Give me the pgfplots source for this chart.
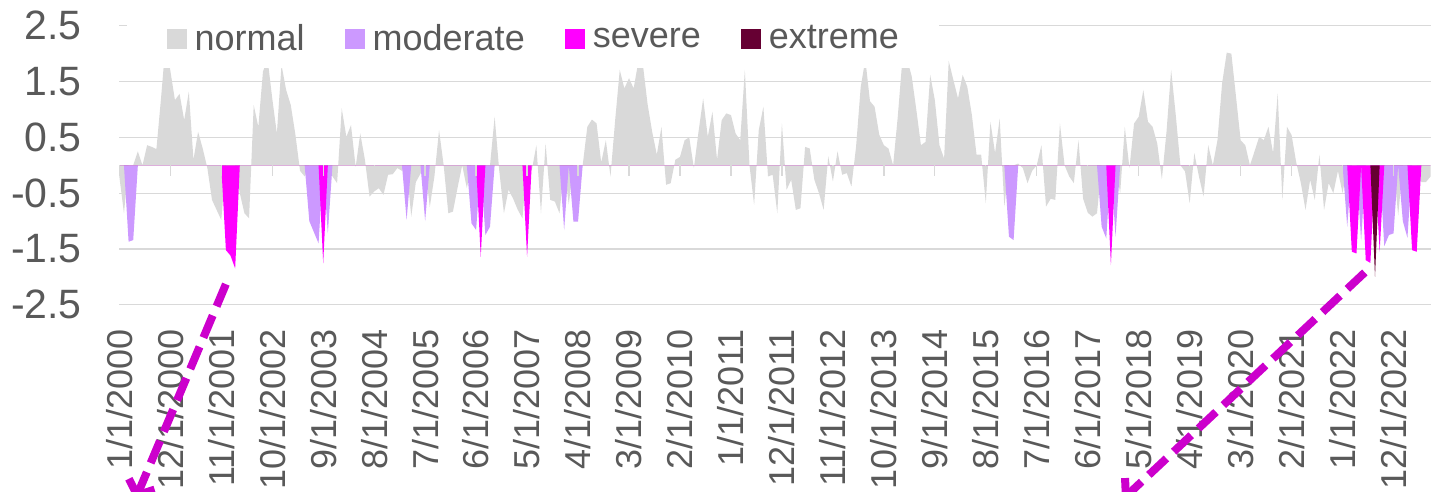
\documentclass[border=0pt]{standalone}
\usepackage{pgfplots}
\pgfplotsset{compat=1.18}
\usepackage{pgfplotstable}
\usepackage{fontspec}
\setmainfont{Liberation Sans}
\usetikzlibrary{arrows.meta}

\definecolor{cnormal}{HTML}{D9D9D9}
\definecolor{cmoderate}{HTML}{CC99FF}
\definecolor{csevere}{HTML}{FF00FF}
\definecolor{cextreme}{HTML}{660033}
\definecolor{txt}{HTML}{595959}
\definecolor{arrowc}{HTML}{CC00CC}

% monthly index, one column per class (0 where the month is in another class)
\pgfplotstableread{
x n m s e
0 -0.20 0 0 0
1 -0.86 0 0 0
2 0 -1.37 0 0
3 0 -1.34 0 0
4 0.25 0 0 0
5 0.00 0 0 0
6 0.36 0 0 0
7 0.33 0 0 0
8 0.29 0 0 0
9 1.20 0 0 0
10 2.20 0 0 0
11 1.70 0 0 0
12 1.17 0 0 0
13 1.28 0 0 0
14 0.81 0 0 0
15 1.32 0 0 0
16 0.10 0 0 0
17 0.60 0 0 0
18 0.30 0 0 0
19 -0.05 0 0 0
20 -0.62 0 0 0
21 -0.80 0 0 0
22 -0.98 0 0 0
23 0 0 -1.52 0
24 0 0 -1.62 0
25 0 0 -1.85 0
26 -0.50 0 0 0
27 -0.86 0 0 0
28 -0.95 0 0 0
29 1.08 0 0 0
30 0.69 0 0 0
31 1.68 0 0 0
32 1.90 0 0 0
33 1.20 0 0 0
34 0.57 0 0 0
35 1.80 0 0 0
36 1.35 0 0 0
37 1.08 0 0 0
38 0.55 0 0 0
39 -0.10 0 0 0
40 -0.20 0 0 0
41 0 -1.00 0 0
42 0 -1.20 0 0
43 0 -1.40 0 0
44 0 0 -1.76 0
45 0 -1.22 0 0
46 -0.20 0 0 0
47 -0.32 0 0 0
48 1.02 0 0 0
49 0.51 0 0 0
50 0.72 0 0 0
51 -0.03 0 0 0
52 0.57 0 0 0
53 0.10 0 0 0
54 -0.56 0 0 0
55 -0.47 0 0 0
56 -0.41 0 0 0
57 -0.53 0 0 0
58 -0.17 0 0 0
59 -0.16 0 0 0
60 -0.05 0 0 0
61 -0.10 0 0 0
62 0 -0.98 0 0
63 -0.92 0 0 0
64 -0.30 0 0 0
65 -0.15 0 0 0
66 0 -1.00 0 0
67 -0.75 0 0 0
68 -0.20 0 0 0
69 0.63 0 0 0
70 0.00 0 0 0
71 -0.86 0 0 0
72 -0.83 0 0 0
73 -0.40 0 0 0
74 0.00 0 0 0
75 -0.41 0 0 0
76 0 -1.04 0 0
77 0 -1.16 0 0
78 0 0 -1.64 0
79 0 -1.25 0 0
80 0 -1.10 0 0
81 0.87 0 0 0
82 -0.10 0 0 0
83 -0.86 0 0 0
84 -0.44 0 0 0
85 -0.60 0 0 0
86 -0.80 0 0 0
87 -0.95 0 0 0
88 0 0 -1.64 0
89 -0.10 0 0 0
90 0.36 0 0 0
91 -0.86 0 0 0
92 0.39 0 0 0
93 -0.62 0 0 0
94 -0.65 0 0 0
95 -0.86 0 0 0
96 0 -1.16 0 0
97 -0.70 0 0 0
98 0 -1.01 0 0
99 0 -1.01 0 0
100 0.00 0 0 0
101 0.69 0 0 0
102 0.82 0 0 0
103 0.75 0 0 0
104 0.05 0 0 0
105 0.45 0 0 0
106 -0.20 0 0 0
107 0.80 0 0 0
108 1.71 0 0 0
109 1.38 0 0 0
110 1.56 0 0 0
111 1.38 0 0 0
112 1.85 0 0 0
113 1.80 0 0 0
114 1.10 0 0 0
115 0.60 0 0 0
116 0.19 0 0 0
117 0.69 0 0 0
118 -0.35 0 0 0
119 -0.32 0 0 0
120 0.10 0 0 0
121 0.15 0 0 0
122 0.45 0 0 0
123 0.50 0 0 0
124 -0.05 0 0 0
125 0.60 0 0 0
126 1.20 0 0 0
127 0.51 0 0 0
128 0.96 0 0 0
129 0.10 0 0 0
130 0.81 0 0 0
131 0.93 0 0 0
132 0.90 0 0 0
133 0.57 0 0 0
134 0.45 0 0 0
135 1.71 0 0 0
136 0.00 0 0 0
137 -0.71 0 0 0
138 0.63 0 0 0
139 1.05 0 0 0
140 -0.20 0 0 0
141 -0.17 0 0 0
142 -0.86 0 0 0
143 0.75 0 0 0
144 -0.44 0 0 0
145 -0.26 0 0 0
146 -0.80 0 0 0
147 -0.77 0 0 0
148 0.33 0 0 0
149 0.30 0 0 0
150 -0.26 0 0 0
151 -0.50 0 0 0
152 -0.80 0 0 0
153 0.16 0 0 0
154 -0.29 0 0 0
155 0.25 0 0 0
156 -0.17 0 0 0
157 -0.14 0 0 0
158 -0.38 0 0 0
159 0.33 0 0 0
160 1.40 0 0 0
161 1.90 0 0 0
162 1.15 0 0 0
163 1.05 0 0 0
164 0.55 0 0 0
165 0.36 0 0 0
166 0.30 0 0 0
167 0.00 0 0 0
168 0.87 0 0 0
169 1.90 0 0 0
170 1.90 0 0 0
171 1.60 0 0 0
172 1.00 0 0 0
173 0.36 0 0 0
174 0.42 0 0 0
175 1.62 0 0 0
176 1.17 0 0 0
177 0.36 0 0 0
178 0.12 0 0 0
179 1.87 0 0 0
180 1.53 0 0 0
181 1.20 0 0 0
182 1.62 0 0 0
183 1.41 0 0 0
184 0.90 0 0 0
185 0.19 0 0 0
186 0.19 0 0 0
187 -0.68 0 0 0
188 0.78 0 0 0
189 0.22 0 0 0
190 0.84 0 0 0
191 -0.74 0 0 0
192 0 -1.28 0 0
193 0 -1.34 0 0
194 0.03 0 0 0
195 -0.05 0 0 0
196 -0.32 0 0 0
197 -0.10 0 0 0
198 0.00 0 0 0
199 0.36 0 0 0
200 -0.74 0 0 0
201 -0.60 0 0 0
202 -0.62 0 0 0
203 0.75 0 0 0
204 0.00 0 0 0
205 -0.20 0 0 0
206 -0.32 0 0 0
207 0.45 0 0 0
208 -0.60 0 0 0
209 -0.85 0 0 0
210 -0.92 0 0 0
211 -0.86 0 0 0
212 0 -1.10 0 0
213 0 -1.31 0 0
214 0 0 -1.79 0
215 0 -1.28 0 0
216 -0.50 0 0 0
217 0.69 0 0 0
218 -0.05 0 0 0
219 0.75 0 0 0
220 0.87 0 0 0
221 1.35 0 0 0
222 0.78 0 0 0
223 0.69 0 0 0
224 0.39 0 0 0
225 -0.25 0 0 0
226 0.60 0 0 0
227 1.71 0 0 0
228 0.90 0 0 0
229 0.00 0 0 0
230 -0.11 0 0 0
231 -0.68 0 0 0
232 0.22 0 0 0
233 -0.20 0 0 0
234 -0.56 0 0 0
235 0.36 0 0 0
236 0.00 0 0 0
237 0.45 0 0 0
238 1.47 0 0 0
239 2.02 0 0 0
240 2.00 0 0 0
241 1.23 0 0 0
242 0.45 0 0 0
243 0.36 0 0 0
244 0.00 0 0 0
245 0.25 0 0 0
246 0.51 0 0 0
247 0.45 0 0 0
248 0.69 0 0 0
249 0.22 0 0 0
250 1.29 0 0 0
251 -0.62 0 0 0
252 0.69 0 0 0
253 0.54 0 0 0
254 0.05 0 0 0
255 -0.32 0 0 0
256 -0.80 0 0 0
257 -0.26 0 0 0
258 -0.62 0 0 0
259 0.19 0 0 0
260 -0.80 0 0 0
261 -0.32 0 0 0
262 -0.50 0 0 0
263 -0.10 0 0 0
264 -0.50 0 0 0
265 0 -1.10 0 0
266 0 0 -1.55 0
267 0 0 -1.58 0
268 0 -1.35 0 0
269 0 0 -1.70 0
270 0 0 -1.75 0
271 0 0 0 -2.00
272 0 0 -1.55 0
273 0 -1.45 0 0
274 0 -1.25 0 0
275 0 -1.22 0 0
276 -0.90 0 0 0
277 0 -1.00 0 0
278 0 -1.30 0 0
279 0 0 -1.52 0
280 0 0 -1.55 0
281 -0.30 0 0 0
282 -0.30 0 0 0
283 -0.20 0 0 0
}\spi

\begin{document}
\begin{tikzpicture}
\begin{axis}[
    width=655.65pt, height=139.5pt, scale only axis,
    xmin=0, xmax=283, ymin=-2.5, ymax=2.5,
    clip=false,
    axis line style={draw=none},
    major tick length=0pt,
    tick style={draw=none},
    ytick={-2.5,-1.5,-0.5,0.5,1.5,2.5},
    yticklabels={-2.5,-1.5,-0.5,0.5,1.5,2.5},
    ymajorgrids, xmajorgrids=false,
    grid style={cnormal, line width=0.65pt},
    xtick={0,11,...,275},
    xticklabels={1/1/2000,12/1/2000,11/1/2001,10/1/2002,9/1/2003,8/1/2004,7/1/2005,6/1/2006,5/1/2007,4/1/2008,3/1/2009,2/1/2010,1/1/2011,12/1/2011,11/1/2012,10/1/2013,9/1/2014,8/1/2015,7/1/2016,6/1/2017,5/1/2018,4/1/2019,3/1/2020,2/1/2021,1/1/2022,12/1/2022},
    xticklabel style={rotate=90, anchor=east, inner sep=0pt, text=txt, font=\fontsize{18}{20}\selectfont},
    yticklabel style={inner sep=0pt, text=txt, font=\fontsize{20.5}{24}\selectfont},
    xticklabel shift=12pt,
    yticklabel shift=18.6pt,
    no markers,
    legend columns=4,
    legend cell align=left,
    legend image code/.code={\fill[#1] (0pt,-5pt) rectangle (10pt,5pt);},
    legend style={draw=none, fill=white, at={(0.0053,0.846)}, anchor=south west,
        inner xsep=20pt, inner ysep=7.5pt, text=txt,
        font=\fontsize{18}{20}\selectfont,
        nodes={inner sep=0pt},
        /tikz/every odd column/.append style={column sep=4pt},
        /tikz/every even column/.append style={column sep=20pt}},
]
\addplot[fill=cnormal, draw=none] table[x=x, y=n]{\spi} \closedcycle;
\addlegendentry{normal}
\addplot[fill=cmoderate, draw=none] table[x=x, y=m]{\spi} \closedcycle;
\addlegendentry{moderate}
\addplot[fill=csevere, draw=none] table[x=x, y=s]{\spi} \closedcycle;
\addlegendentry{severe}
\addplot[fill=cextreme, draw=none] table[x=x, y=e]{\spi} \closedcycle;
\addlegendentry{extreme}

% category axis ticks below the zero line
\pgfplotsinvokeforeach{0,11,...,275}{
    \draw[cnormal, line width=0.65pt] (axis cs:#1,0) -- ++(0pt,-5.5pt);
}

% dashed call-out arrows
\draw[arrowc, line width=4pt, dash pattern=on 12pt off 5pt,
      -{Straight Barb[length=6pt,width=14pt]}]
    (axis cs:23.0,-2.13) -- (axis cs:3.4,-6.0);
\draw[arrowc, line width=4pt, dash pattern=on 12pt off 5pt,
      -{Straight Barb[length=6pt,width=14pt]}]
    (axis cs:268.8,-1.92) -- (axis cs:216.4,-6.0);

\coordinate (bbsw) at (rel axis cs:-0.0910,-0.6710);
\coordinate (bbne) at (rel axis cs:1.0003,1.0925);
\end{axis}
\pgfresetboundingbox
\useasboundingbox (bbsw) rectangle (bbne);
\end{tikzpicture}
\end{document}
